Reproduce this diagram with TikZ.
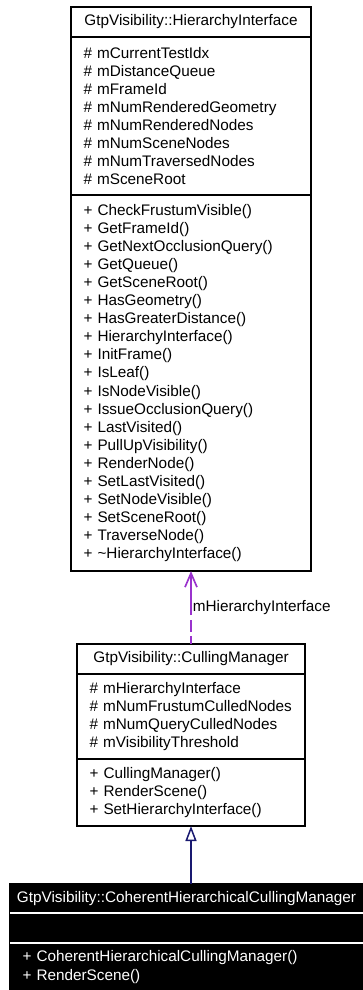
\documentclass[tikz,border=0pt]{standalone}
\usepackage{fontspec}
\setmainfont{Liberation Sans}
\usetikzlibrary{positioning,arrows.meta}

\definecolor{usagecol}{HTML}{9A32CD}
\definecolor{inhercol}{HTML}{191970}

\begin{document}
\begin{tikzpicture}[x=1pt,y=-1pt,
        every node/.style={font=\fontsize{15.3}{18.1}\selectfont},
        classtitle/.style={draw,line width=1.4pt,inner sep=0pt,outer sep=0pt,minimum height=30pt},
        members/.style={draw,line width=1.4pt,inner xsep=12.5pt,inner ysep=0pt,outer sep=0pt,align=left},
        darkbox/.style={fill=black,text=white},
        usage/.style={draw=usagecol,line width=1.7pt,
            dash pattern=on 8pt off 4pt on 12pt off 5pt on 50pt off 1pt,
            -{Straight Barb[length=14pt,width=12pt]}},
        inherit/.style={draw=inhercol,line width=1.5pt,-{Triangle[open,length=15pt,width=11pt]}}]
    \useasboundingbox (0,0) rectangle (362,990);

    % GtpVisibility::HierarchyInterface
    \node[classtitle,minimum width=240pt,anchor=north west] (hiTitle) at (71,7) {GtpVisibility::HierarchyInterface};
    \node[members,text width=215pt,minimum height=158pt,below=0pt of hiTitle] (hiAttr) {%
        \# mCurrentTestIdx\\
        \# mDistanceQueue\\
        \# mFrameId\\
        \# mNumRenderedGeometry\\
        \# mNumRenderedNodes\\
        \# mNumSceneNodes\\
        \# mNumTraversedNodes\\
        \# mSceneRoot};
    \node[members,text width=215pt,minimum height=376pt,below=0pt of hiAttr] (hiMeth) {%
        + CheckFrustumVisible()\\
        + GetFrameId()\\
        + GetNextOcclusionQuery()\\
        + GetQueue()\\
        + GetSceneRoot()\\
        + HasGeometry()\\
        + HasGreaterDistance()\\
        + HierarchyInterface()\\
        + InitFrame()\\
        + IsLeaf()\\
        + IsNodeVisible()\\
        + IssueOcclusionQuery()\\
        + LastVisited()\\
        + PullUpVisibility()\\
        + RenderNode()\\
        + SetLastVisited()\\
        + SetNodeVisible()\\
        + SetSceneRoot()\\
        + TraverseNode()\\
        + \textasciitilde HierarchyInterface()};

    % GtpVisibility::CullingManager
    \node[classtitle,minimum width=228pt,anchor=north west] (cmTitle) at (77,644) {GtpVisibility::CullingManager};
    \node[members,text width=203pt,minimum height=85pt,below=0pt of cmTitle] (cmAttr) {%
        \# mHierarchyInterface\\
        \# mNumFrustumCulledNodes\\
        \# mNumQueryCulledNodes\\
        \# mVisibilityThreshold};
    \node[members,text width=203pt,minimum height=67pt,below=0pt of cmAttr] (cmMeth) {%
        + CullingManager()\\
        + RenderScene()\\
        + SetHierarchyInterface()};

    % GtpVisibility::CoherentHierarchicalCullingManager
    \node[classtitle,darkbox,minimum width=353pt,minimum height=29pt,anchor=north west] (chTitle) at (10,884) {GtpVisibility::CoherentHierarchicalCullingManager};
    \node[members,darkbox,text width=328pt,minimum height=30pt,below=0pt of chTitle] (chAttr) {};
    \node[members,darkbox,text width=328pt,minimum height=48pt,below=0pt of chAttr] (chMeth) {%
        + CoherentHierarchicalCullingManager()\\
        + RenderScene()};
    \draw[white,line width=1.4pt] (chTitle.south west) -- (chTitle.south east);
    \draw[white,line width=1.4pt] (chAttr.south west) -- (chAttr.south east);

    % relations
    \draw[usage] (cmTitle.north) -- (hiMeth.south)
        node[pos=0.5,anchor=west,inner xsep=1pt,text=black] {mHierarchyInterface};
    \draw[inherit] (chTitle.north -| cmMeth.south) -- (cmMeth.south);
\end{tikzpicture}
\end{document}
